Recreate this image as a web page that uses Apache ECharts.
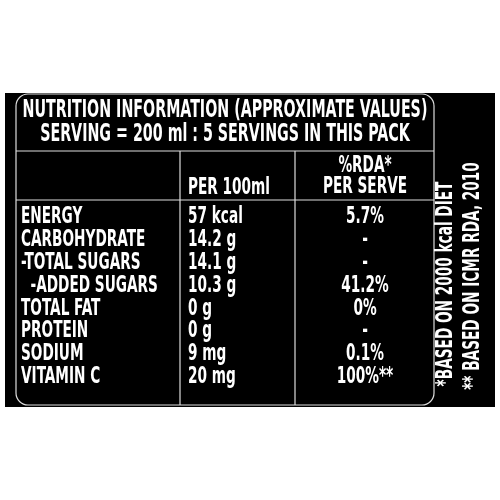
<!DOCTYPE html>
<html><head><meta charset="utf-8">
<script src="https://cdn.jsdelivr.net/npm/echarts@6/dist/echarts.min.js"></script>
<style>html,body{margin:0;background:#fff}#c{width:500px;height:500px}</style>
</head><body><div id="c"></div>
<script>
const title = ['NUTRITION INFORMATION (APPROXIMATE VALUES)', 'SERVING = 200 ml : 5 SERVINGS IN THIS PACK'];
const colHeads = ['PER 100ml', '%RDA*\nPER SERVE'];
const nutrients = ['ENERGY', 'CARBOHYDRATE', '-TOTAL SUGARS', '  -ADDED SUGARS', 'TOTAL FAT', 'PROTEIN', 'SODIUM', 'VITAMIN C'];
const per100 = ['57 kcal', '14.2 g', '14.1 g', '10.3 g', '0 g', '0 g', '9 mg', '20 mg'];
const rda = ['5.7%', '-', '-', '41.2%', '0%', '-', '0.1%', '100%**'];
const notes = ['*BASED ON 2000 kcal DIET', '** BASED ON ICMR RDA, 2010'];

const FONT = '"Liberation Sans Narrow", "DejaVu Sans Condensed", sans-serif';
const SX = 0.66;
const chart = echarts.init(document.getElementById('c'));
const txt = (x, y, s, align, size) => ({
  type: 'text', x, y, scaleX: SX,
  style: { text: s, fill: '#fff', font: 'bold ' + (size || 23) + 'px ' + FONT,
           align: align || 'left', verticalAlign: 'middle', lineHeight: 21 }
});
const g = [
  { type: 'rect', shape: { x: 5, y: 93, width: 490, height: 314 }, style: { fill: '#000' } },
  { type: 'rect', shape: { x: 16, y: 94, width: 418, height: 311, r: 12 }, style: { fill: 'none', stroke: '#ddd', lineWidth: 1.2 } },
  { type: 'line', shape: { x1: 16, y1: 151, x2: 434, y2: 151 }, style: { stroke: '#ddd', lineWidth: 1.2 } },
  { type: 'line', shape: { x1: 16, y1: 200, x2: 434, y2: 200 }, style: { stroke: '#ddd', lineWidth: 1.2 } },
  { type: 'line', shape: { x1: 180, y1: 151, x2: 180, y2: 405 }, style: { stroke: '#ddd', lineWidth: 1.2 } },
  { type: 'line', shape: { x1: 295, y1: 151, x2: 295, y2: 405 }, style: { stroke: '#ddd', lineWidth: 1.2 } }
];
title.forEach((t, i) => g.push(txt(225, 111 + i * 24, t, 'center', 24)));
g.push(txt(188, 188, colHeads[0], 'left'));
g.push(txt(365, 177, colHeads[1], 'center'));
nutrients.forEach((n, i) => {
  const y = 217 + i * 22.9;
  g.push(txt(21, y, n, 'left'));
  g.push(txt(188, y, per100[i], 'left'));
  g.push(txt(365, y, rda[i], 'center'));
});
notes.forEach((n, i) => {
  g.push({ type: 'text', x: 446 + i * 27, y: [284, 276][i], rotation: Math.PI / 2,
    scaleX: SX, style: { text: n, fill: '#fff', font: 'bold 23px ' + FONT, align: 'center', verticalAlign: 'middle' } });
});
chart.setOption({ backgroundColor: '#fff', graphic: g });
</script></body></html>
